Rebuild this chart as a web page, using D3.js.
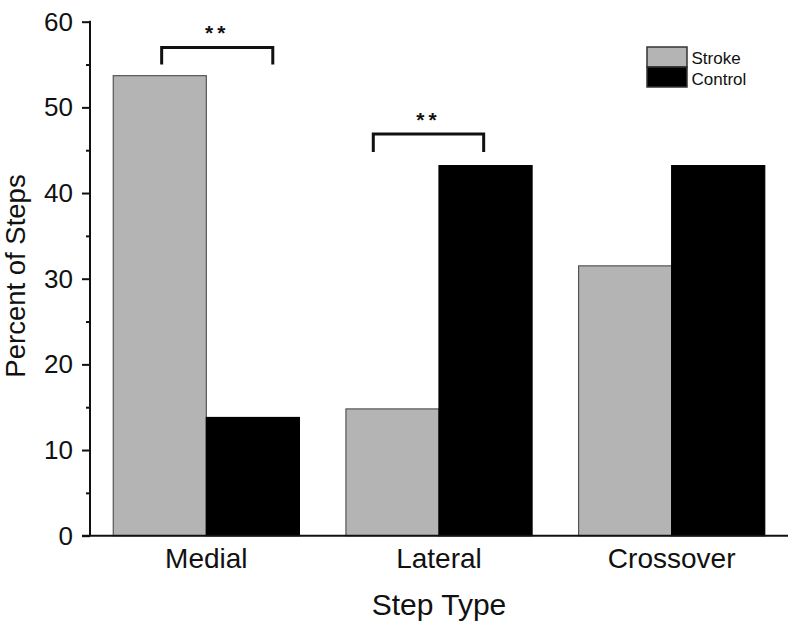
<!DOCTYPE html>
<html><head><meta charset="utf-8">
<script src="https://cdn.jsdelivr.net/npm/d3@7"></script>
<style>body{margin:0;background:#fff;} text{font-family:"Liberation Sans",Arial,sans-serif;fill:#111;}</style>
</head><body>
<svg id="c" width="800" height="625"></svg>
<script>
const categories = ["Medial", "Lateral", "Crossover"];
const seriesNames = ["Stroke", "Control"];
const strokeValues = [53.7, 14.8, 31.5];
const controlValues = [13.8, 43.2, 43.2];
const yTicks = [0, 10, 20, 30, 40, 50, 60];
const yMinorTicks = [5, 15, 25, 35, 45, 55];
const sigCategories = ["Medial", "Lateral"];
const sigLabels = ["**", "**"];
const sigLow = [55.0, 44.8];
const sigHigh = [57.0, 46.9];

(function () {
const colors = {Stroke: "#b4b4b4", Control: "#000"};
const outline = {Stroke: "#555", Control: "#000"};

const svg = d3.select("#c");
const pLeft = 90, pRight = 788, pTop = 21.7, pBottom = 535.7;

const x = d3.scaleBand().domain(categories).range([pLeft, pRight]).paddingInner(0.2).paddingOuter(0.1);
const xs = d3.scaleBand().domain(seriesNames).range([0, x.bandwidth()]);
const y = d3.scaleLinear().domain([0, 60]).range([pBottom, pTop]);

const rows = categories.map((c, i) => ({cat: c, Stroke: strokeValues[i], Control: controlValues[i]}));

const g = svg.append("g");
rows.forEach(r => {
  seriesNames.forEach(s => {
    g.append("rect")
      .attr("x", x(r.cat) + xs(s))
      .attr("y", y(r[s]))
      .attr("width", xs.bandwidth())
      .attr("height", y(0) - y(r[s]))
      .attr("fill", colors[s])
      .attr("stroke", outline[s])
      .attr("stroke-width", 1.2);
  });
});

// y axis
const yAxis = svg.append("g").attr("transform", `translate(${pLeft},0)`)
  .call(d3.axisLeft(y).tickValues(yTicks).tickSize(8).tickPadding(9).tickFormat(d3.format("d")));
yAxis.select(".domain").remove();
yAxis.selectAll("line").attr("stroke", "#111").attr("stroke-width", 2);
yAxis.selectAll("text").attr("font-size", 26).style("font-family", '"Liberation Sans",Arial,sans-serif').attr("fill", "#111");
const yMinor = svg.append("g").attr("transform", `translate(${pLeft},0)`)
  .call(d3.axisLeft(y).tickValues(yMinorTicks).tickSize(4).tickFormat(""));
yMinor.select(".domain").remove();
yMinor.selectAll("line").attr("stroke", "#111").attr("stroke-width", 2);

svg.append("line").attr("x1", pLeft).attr("x2", pLeft).attr("y1", y(60) - 1).attr("y2", pBottom)
  .attr("stroke", "#111").attr("stroke-width", 2);
svg.append("line").attr("x1", 82).attr("x2", pRight).attr("y1", pBottom).attr("y2", pBottom)
  .attr("stroke", "#111").attr("stroke-width", 2);

// x category labels
const xAxis = svg.append("g").attr("transform", `translate(0,${pBottom})`)
  .call(d3.axisBottom(x).tickSize(0).tickPadding(12));
xAxis.select(".domain").remove();
xAxis.selectAll("text").attr("font-size", 28).style("font-family", '"Liberation Sans",Arial,sans-serif').attr("fill", "#111");

// axis titles
svg.append("text").attr("x", 439).attr("y", 615).attr("text-anchor", "middle")
  .attr("font-size", 30).text("Step Type");
svg.append("text").attr("transform", `translate(25,276) rotate(-90)`).attr("text-anchor", "middle")
  .attr("font-size", 27.5).text("Percent of Steps");

// significance brackets
const bracketFrac = {Medial: [0.26, 0.857], Lateral: [0.147, 0.74]};
sigCategories.forEach((c, i) => {
  const x0 = x(c) + x.bandwidth() * bracketFrac[c][0];
  const x1 = x(c) + x.bandwidth() * bracketFrac[c][1];
  svg.append("path")
    .attr("d", `M${x0},${y(sigLow[i])}V${y(sigHigh[i])}H${x1}V${y(sigLow[i])}`)
    .attr("fill", "none").attr("stroke", "#111").attr("stroke-width", 3);
  svg.append("text").attr("x", (x0 + x1) / 2).attr("y", y(sigHigh[i]) - 7)
    .attr("text-anchor", "middle").attr("font-size", 21).attr("font-weight", "bold").attr("letter-spacing", 4).text(sigLabels[i]);
});

// legend
const lg = svg.append("g").attr("transform", "translate(647,47)");
seriesNames.forEach((s, i) => {
  lg.append("rect").attr("x", 0).attr("y", i * 20).attr("width", 40).attr("height", 20)
    .attr("fill", colors[s]).attr("stroke", "#333").attr("stroke-width", 1.5);
  lg.append("text").attr("x", 44.5).attr("y", i * 21 + 16.5).attr("font-size", 17).text(s);
});
})();
</script>
</body></html>
